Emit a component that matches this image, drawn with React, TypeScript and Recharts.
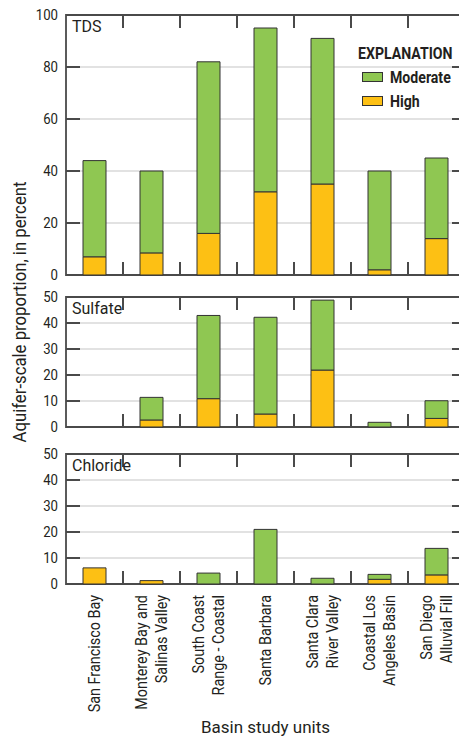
import React from 'react';
import { BarChart, Bar, XAxis, YAxis, CartesianGrid, ReferenceArea, Legend, Label } from 'recharts';

const categories = [
  'San Francisco Bay',
  'Monterey Bay and\nSalinas Valley',
  'South Coast\nRange - Coastal',
  'Santa Barbara',
  'Santa Clara\nRiver Valley',
  'Coastal Los\nAngeles Basin',
  'San Diego\nAlluvial Fill',
];

const tdsHigh = [7, 8.5, 16, 32, 35, 2, 14];
const tdsModerate = [37, 31.5, 66, 63, 56, 38, 31];
const sulfateHigh = [0, 2.7, 10.9, 5, 21.9, 0, 3.3];
const sulfateModerate = [0, 8.7, 32, 37.2, 26.9, 1.8, 6.8];
const chlorideHigh = [6.2, 1.3, 0, 0, 0, 1.8, 3.5];
const chlorideModerate = [0, 0, 4.2, 21, 2.2, 1.9, 10.2];

const tdsTicks = [0, 20, 40, 60, 80, 100];
const ionTicks = [0, 10, 20, 30, 40, 50];

const FONT = 'Roboto, "Liberation Sans", sans-serif';
const GREEN = '#8fc752';
const ORANGE = '#fdc014';
const INK = '#231f20';
const AXIS = '#4a4a4a';
const GRID = '#d9d9d9';

const CHART_W = 470;
const PLOT_LEFT = 66;
const PLOT_RIGHT = 465;
const BAND = (PLOT_RIGHT - PLOT_LEFT) / categories.length;
const TICK_LEN = 13;

const build = (high: number[], moderate: number[]) =>
  categories.map((c, i) => ({ name: c, High: high[i], Moderate: moderate[i] }));

// Short inward ticks on the top and bottom frame at category boundaries.
const boundaryTicks = (y: number, dir: number) =>
  categories.slice(1).map((_, k) => {
    const bx = PLOT_LEFT + (k + 1) * BAND;
    return <line key={k} x1={bx} x2={bx} y1={y} y2={y + dir * TICK_LEN} stroke={AXIS} strokeWidth={2} />;
  });

// Horizontal grid line with inward value ticks on both frame sides (beneath the bars).
const gridLine = (props: any) => {
  const { x1, x2, y1, index } = props;
  return (
    <g key={`g-${index}-${y1}`}>
      <line x1={x1} x2={x2} y1={y1} y2={y1} stroke={GRID} strokeWidth={1.6} />
      <line x1={x1} x2={x1 + 14} y1={y1} y2={y1} stroke={AXIS} strokeWidth={2} />
      <line x1={x2 - 13} x2={x2} y1={y1} y2={y1} stroke={AXIS} strokeWidth={2} />
    </g>
  );
};

const makeYTick = (max: number) => (props: any) => {
  const { y, payload } = props;
  const v = payload.value;
  return (
    <g>
      {v === 0 && boundaryTicks(y, -1)}
      {v === max && boundaryTicks(y, 1)}
      <text
        transform={`translate(${PLOT_LEFT - 8},${y + 5.3}) scale(0.88,1)`}
        textAnchor="end"
        fontSize={15}
        fontFamily={FONT}
        fill={INK}
      >
        {v}
      </text>
    </g>
  );
};

const makeXTick = (plotBottom: number) => (props: any) => {
  const { x, payload } = props;
  const lines = String(payload.value).split('\n');
  const n = lines.length;
  return (
    <text
      transform={`translate(${x},${plotBottom + 11}) rotate(-90) scale(0.9,1)`}
      textAnchor="end"
      fontSize={16}
      fontFamily={FONT}
      fill={INK}
    >
      {lines.map((l, i) => (
        <tspan key={i} x={0} y={(i - (n - 1) / 2) * 20 + 5.7}>
          {l}
        </tspan>
      ))}
    </text>
  );
};

const LegendContent = (props: any) => {
  const items = [...(props.payload || [])].reverse();
  const cond: React.CSSProperties = {
    display: 'inline-block',
    transform: 'scaleX(0.83)',
    transformOrigin: 'left center',
    whiteSpace: 'nowrap',
  };
  return (
    <div style={{ fontFamily: FONT, fontWeight: 'bold', color: INK, position: 'relative', width: 100, height: 62 }}>
      <div style={{ position: 'absolute', left: 0, top: 0, fontSize: 17, lineHeight: '17px' }}>
        <span style={cond}>EXPLANATION</span>
      </div>
      {items.map((p: any, i: number) => (
        <div
          key={p.value}
          style={{ position: 'absolute', left: 4, top: 24 + i * 24, height: 16, display: 'flex', alignItems: 'center' }}
        >
          <span style={{ display: 'inline-block', width: 19, height: 8, background: p.color, border: '1px solid #333' }} />
          <span style={{ marginLeft: 7, fontSize: 17, lineHeight: '16px' }}>
            <span style={cond}>{p.value}</span>
          </span>
        </div>
      ))}
    </div>
  );
};

type PanelProps = {
  title: string;
  data: any[];
  max: number;
  ticks: number[];
  top: number;
  plotH: number;
  bottom?: boolean;
  legend?: boolean;
};

const Panel = ({ title, data, max, ticks, top, plotH, bottom, legend }: PanelProps) => {
  const mTop = 10;
  const xH = bottom ? 150 : 0;
  const mBottom = bottom ? 3 : 10;
  const height = mTop + plotH + xH + mBottom;
  const plotBottom = mTop + plotH;
  return (
    <div style={{ position: 'absolute', left: 0, top: top - mTop }}>
      <BarChart
        width={CHART_W}
        height={height}
        data={data}
        margin={{ top: mTop, right: CHART_W - PLOT_RIGHT, left: 0, bottom: mBottom }}
        barSize={23}
      >
        <CartesianGrid vertical={false} horizontal={gridLine} />
        <XAxis
          dataKey="name"
          interval={0}
          height={xH}
          hide={!bottom}
          axisLine={false}
          tickLine={false}
          tickSize={0}
          tickMargin={0}
          tick={makeXTick(plotBottom)}
        >
          {bottom && (
            <Label value="Basin study units" position="insideBottom" offset={1} fontSize={17} fontFamily={FONT} fill={INK} />
          )}
        </XAxis>
        <YAxis
          type="number"
          domain={[0, max]}
          ticks={ticks}
          interval={0}
          width={PLOT_LEFT}
          axisLine={false}
          tickLine={false}
          tickSize={0}
          tickMargin={8}
          tick={makeYTick(max)}
        />
        <Bar dataKey="High" stackId="a" fill={ORANGE} stroke="#333" strokeWidth={1} isAnimationActive={false} />
        <Bar dataKey="Moderate" stackId="a" fill={GREEN} stroke="#333" strokeWidth={1} isAnimationActive={false} />
        <ReferenceArea y1={0} y2={max} fill="none" fillOpacity={0} stroke={AXIS} strokeWidth={1.8} strokeOpacity={1}>
          <Label value={title} position="insideTopLeft" offset={6} fontSize={16} fontFamily={FONT} fill={INK} />
        </ReferenceArea>
        {legend && (
          <Legend
            layout="vertical"
            align="center"
            verticalAlign="middle"
            content={<LegendContent />}
            wrapperStyle={{ position: 'absolute', left: 358, top: 40, width: 100 }}
          />
        )}
      </BarChart>
    </div>
  );
};

export default function App() {
  return (
    <div style={{ position: 'absolute', left: 0, top: 0, width: 459, height: 738, overflow: 'hidden', background: '#fff' }}>
      <style>{'.recharts-surface{overflow:visible}'}</style>
      <Panel title="TDS" data={build(tdsHigh, tdsModerate)} max={100} ticks={tdsTicks} top={15} plotH={260} legend />
      <Panel title="Sulfate" data={build(sulfateHigh, sulfateModerate)} max={50} ticks={ionTicks} top={297} plotH={130} />
      <Panel title="Chloride" data={build(chlorideHigh, chlorideModerate)} max={50} ticks={ionTicks} top={454} plotH={130} bottom />
      <svg width={40} height={738} style={{ position: 'absolute', left: 0, top: 0 }}>
        <text
          transform="translate(25.5,312) rotate(-90) scale(0.93,1)"
          textAnchor="middle"
          fontSize={18}
          fontFamily={FONT}
          fill={INK}
        >
          Aquifer-scale proportion, in percent
        </text>
      </svg>
    </div>
  );
}
